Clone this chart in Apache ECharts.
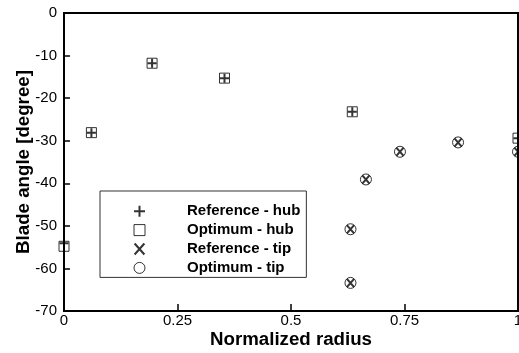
<!DOCTYPE html>
<html><head><meta charset="utf-8">
<script src="https://cdn.jsdelivr.net/npm/echarts@6/dist/echarts.min.js"></script>
<style>html,body{margin:0;padding:0;background:#fff}#c{width:519px;height:353px}</style>
</head><body><div id="c"></div>
<script>
const radiusHub = [0, 0.0604, 0.194, 0.3535, 0.635, 1.0];
const referenceHub = [-54.1, -28.1, -11.8, -15.3, -23.2, -29.4];
const optimumHub = [-54.8, -28.1, -11.8, -15.3, -23.2, -29.4];
const radiusTip = [0.631, 0.631, 0.665, 0.740, 0.868, 1.0];
const referenceTip = [-63.4, -50.8, -39.1, -32.6, -30.4, -32.6];
const optimumTip = [-63.4, -50.8, -39.1, -32.6, -30.4, -32.6];
const xTickLabels = ['0', '0.25', '0.5', '0.75', '1'];
const yTickLabels = ['-70', '-60', '-50', '-40', '-30', '-20', '-10', '0'];
const seriesNames = ['Reference - hub', 'Optimum - hub', 'Reference - tip', 'Optimum - tip'];

const FONT = 'Liberation Sans, Arial, sans-serif';
const pairs = (xs, ys) => xs.map((x, i) => [x, ys[i]]);

const chart = echarts.init(document.getElementById('c'), null, {renderer: 'canvas'});
chart.setOption({
  animation: false,
  backgroundColor: '#fff',
  grid: {left: 64, top: 13, width: 454, height: 298, show: true, borderColor: '#000', borderWidth: 2,
    backgroundColor: 'transparent', containLabel: false, outerBoundsMode: 'none'},
  xAxis: {
    type: 'value', min: 0, max: 1, interval: 0.25,
    name: 'Normalized radius', nameLocation: 'middle', nameGap: 19, nameMoveOverlap: false,
    nameTextStyle: {fontFamily: FONT, fontWeight: 'bold', fontSize: 18.7, color: '#000'},
    axisLine: {onZero: false, lineStyle: {color: '#000', width: 2}},
    axisTick: {inside: true, length: 7, lineStyle: {color: '#000', width: 1.5}},
    axisLabel: {color: '#000', fontFamily: FONT, fontSize: 15, margin: 2,
      formatter: v => xTickLabels[Math.round(v / 0.25)]},
    splitLine: {show: false}
  },
  yAxis: {
    type: 'value', min: -70, max: 0, interval: 10,
    name: 'Blade angle [degree]', nameLocation: 'middle', nameGap: 31, nameRotate: 90, nameMoveOverlap: false,
    nameTextStyle: {fontFamily: FONT, fontWeight: 'bold', fontSize: 18.7, color: '#000'},
    axisLine: {onZero: false, lineStyle: {color: '#000', width: 2}},
    axisTick: {inside: true, length: 6, lineStyle: {color: '#000', width: 1.5}},
    axisLabel: {color: '#000', fontFamily: FONT, fontSize: 15, margin: 7,
      formatter: v => yTickLabels[Math.round((v + 70) / 10)]},
    splitLine: {show: false}
  },
  legend: {
    orient: 'vertical', left: 100, top: 191,
    padding: [12.7, 6, 2, 33],
    itemWidth: 11, itemHeight: 11, itemGap: 3.9,
    borderColor: '#333', borderWidth: 1,
    selectedMode: false,
    textStyle: {fontFamily: FONT, fontWeight: 'bold', fontSize: 15, color: '#000', lineHeight: 14, padding: [0, 0, 0, 37]},
    data: [
      {name: seriesNames[0], itemStyle: {borderWidth: 2}},
      {name: seriesNames[1], itemStyle: {borderWidth: 1}},
      {name: seriesNames[2], itemStyle: {borderWidth: 2}},
      {name: seriesNames[3], itemStyle: {borderWidth: 1}}
    ]
  },
  series: [
    {name: seriesNames[1], type: 'scatter', clip: false, silent: true, symbol: 'rect', symbolSize: 10,
      itemStyle: {color: 'rgba(0,0,0,0)', borderColor: '#000', borderWidth: 1},
      data: pairs(radiusHub, optimumHub)},
    {name: seriesNames[3], type: 'scatter', clip: false, silent: true, symbol: 'circle', symbolSize: 11,
      itemStyle: {color: 'rgba(0,0,0,0)', borderColor: '#000', borderWidth: 1},
      data: pairs(radiusTip, optimumTip)},
    {name: seriesNames[0], type: 'scatter', clip: false, silent: true, symbol: 'path://M0,5L10,5M5,0L5,10', symbolSize: 9,
      itemStyle: {color: 'rgba(0,0,0,0)', borderColor: '#000', borderWidth: 2},
      data: pairs(radiusHub, referenceHub)},
    {name: seriesNames[2], type: 'scatter', clip: false, silent: true, symbol: 'path://M0,0L8,9M8,0L0,9', symbolSize: [7, 8],
      itemStyle: {color: 'rgba(0,0,0,0)', borderColor: '#000', borderWidth: 2},
      data: pairs(radiusTip, referenceTip)}
  ]
});
</script></body></html>
